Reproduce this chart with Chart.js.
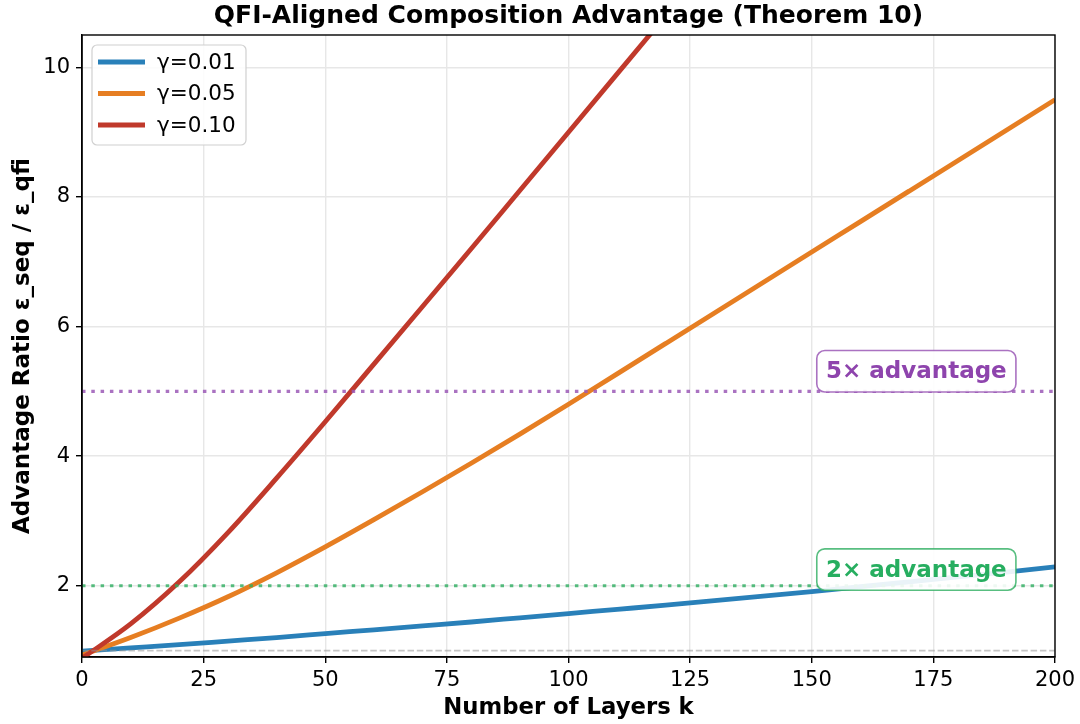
<!DOCTYPE html>
<html>
<head>
<meta charset="utf-8">
<title>QFI-Aligned Composition Advantage</title>
<script src="https://cdn.jsdelivr.net/npm/chart.js@4.4.1/dist/chart.umd.min.js"></script>
<style>
    html, body { margin: 0; padding: 0; background: #ffffff; }
    #chart-box { width: 1080px; height: 724px; }
</style>
</head>
<body>
<div id="chart-box"><canvas id="main-chart" width="1080" height="724"></canvas></div>
<script>
// ==================== DATOS ====================

const layers = [0, 10, 20, 30, 40, 50, 60, 70, 80, 90, 100, 110, 120, 130, 140, 150, 160, 170, 180, 190, 200];

// Ratio ε_seq / ε_qfi
const ratioGamma001 = [0.99, 1.04, 1.09, 1.145, 1.20, 1.26, 1.32, 1.38, 1.44, 1.505, 1.57, 1.635, 1.70, 1.77, 1.84, 1.91, 1.985, 2.06, 2.135, 2.21, 2.29];
const ratioGamma005 = [0.93, 1.20, 1.50, 1.83, 2.20, 2.60, 3.02, 3.45, 3.89, 4.34, 4.80, 5.27, 5.74, 6.21, 6.68, 7.15, 7.62, 8.09, 8.56, 9.03, 9.50];
const ratioGamma010 = [0.88, 1.41, 2.06, 2.82, 3.66, 4.53, 5.42, 6.31, 7.20, 8.10, 9.00, 9.90, 10.80];

const seriesLabels = ['γ=0.01', 'γ=0.05', 'γ=0.10'];
const seriesColors = ['#2980b9', '#e67e22', '#c0392b'];

const xTicks = [0, 25, 50, 75, 100, 125, 150, 175, 200];
const yTicks = [2, 4, 6, 8, 10];

const baselineRatio = 1;
const advantageLevels = [5, 2];
const advantageLabels = ['5× advantage', '2× advantage'];
const advantageColors = ['#8e44ad', '#27ae60'];
const advantageLineColors = ['rgba(155, 89, 182, 0.85)', 'rgba(46, 174, 96, 0.8)'];

const chartTitle = 'QFI-Aligned Composition Advantage (Theorem 10)';

const FONT = "'DejaVu Sans', Verdana, sans-serif";

function toPoints(values) {
    return values.map((v, i) => ({ x: layers[i], y: v }));
}

function flatLine(level) {
    return [{ x: xTicks[0], y: level }, { x: xTicks[xTicks.length - 1], y: level }];
}

// ==================== PLUGINS ====================

// Titulo centrado sobre el area del grafico (como matplotlib)
const axesTitlePlugin = {
    id: 'axesTitle',
    afterDraw(chart) {
        const { ctx, chartArea: a } = chart;
        ctx.save();
        ctx.font = 'bold 25px ' + FONT;
        ctx.fillStyle = '#000';
        ctx.textAlign = 'center';
        ctx.textBaseline = 'middle';
        ctx.fillText(chartTitle, (a.left + a.right) / 2, 16);
        ctx.restore();
    }
};

// Marco completo del area del grafico (arriba y derecha)
const framePlugin = {
    id: 'frame',
    afterDatasetsDraw(chart) {
        const { ctx, chartArea: a } = chart;
        ctx.save();
        ctx.strokeStyle = '#000';
        ctx.lineWidth = 1.4;
        ctx.strokeRect(a.left, a.top, a.right - a.left, a.bottom - a.top);
        ctx.restore();
    }
};

// Cajas de texto "N× advantage"
const advantageBoxPlugin = {
    id: 'advantageBoxes',
    afterDatasetsDraw(chart) {
        const { ctx, scales } = chart;
        const fs = 23;
        const pad = 0.4 * fs;
        const anchorX = 171.5;
        const offsets = [0.31, 0.25];
        ctx.save();
        ctx.font = 'bold ' + fs + 'px ' + FONT;
        ctx.textAlign = 'center';
        ctx.textBaseline = 'middle';
        advantageLabels.forEach((label, i) => {
            const cx = scales.x.getPixelForValue(anchorX);
            const cy = scales.y.getPixelForValue(advantageLevels[i] + offsets[i]);
            const w = ctx.measureText(label).width + 2 * pad;
            const h = fs + 2 * pad;
            ctx.beginPath();
            ctx.roundRect(cx - w / 2, cy - h / 2, w, h, 8);
            ctx.fillStyle = 'rgba(255, 255, 255, 0.9)';
            ctx.fill();
            ctx.lineWidth = 1.6;
            ctx.strokeStyle = advantageLineColors[i];
            ctx.stroke();
            ctx.fillStyle = advantageColors[i];
            ctx.fillText(label, cx, cy + 1);
        });
        ctx.restore();
    }
};

// Leyenda dentro del area del grafico, arriba a la izquierda
const innerLegendPlugin = {
    id: 'innerLegend',
    afterDraw(chart) {
        const { ctx, chartArea: a } = chart;
        const x0 = a.left + 10, y0 = a.top + 10;
        const w = 154, h = 100;
        ctx.save();
        ctx.beginPath();
        ctx.roundRect(x0, y0, w, h, 5);
        ctx.fillStyle = 'rgba(255, 255, 255, 0.85)';
        ctx.fill();
        ctx.lineWidth = 1.2;
        ctx.strokeStyle = '#d0d0d0';
        ctx.stroke();
        ctx.font = '21.5px ' + FONT;
        ctx.textBaseline = 'middle';
        ctx.fillStyle = '#000';
        seriesLabels.forEach((label, i) => {
            const y = y0 + 17 + i * 31.5;
            ctx.beginPath();
            ctx.moveTo(x0 + 6, y);
            ctx.lineTo(x0 + 53, y);
            ctx.lineWidth = 4.8;
            ctx.strokeStyle = seriesColors[i];
            ctx.stroke();
            ctx.fillText(label, x0 + 65, y + 1);
        });
        ctx.restore();
    }
};

// ==================== GRAFICO ====================

const seriesValues = [ratioGamma001, ratioGamma005, ratioGamma010];

const datasets = seriesValues.map((vals, i) => ({
    label: seriesLabels[i],
    data: toPoints(vals),
    borderColor: seriesColors[i],
    borderWidth: 4.8,
    pointRadius: 0,
    cubicInterpolationMode: 'monotone',
    clip: 0,
    order: 3 - i
}));

advantageLevels.forEach((level, i) => {
    datasets.push({
        label: advantageLabels[i],
        data: flatLine(level),
        borderColor: advantageLineColors[i],
        borderWidth: 3.2,
        borderDash: [3.5, 5.8],
        pointRadius: 0,
        clip: 0,
        order: 0
    });
});

datasets.push({
    label: 'baseline',
    data: flatLine(baselineRatio),
    borderColor: 'rgba(150, 150, 150, 0.55)',
    borderWidth: 1.75,
    borderDash: [6.5, 2.8],
    pointRadius: 0,
    clip: 0,
    order: 0
});

const gridStyle = {
    color: '#e7e7e7',
    lineWidth: 1.4,
    tickColor: '#000',
    tickLength: 6,
    tickWidth: 1.4
};

new Chart(document.getElementById('main-chart'), {
    type: 'line',
    data: { datasets: datasets },
    options: {
        responsive: false,
        animation: false,
        devicePixelRatio: 1,
        layout: { padding: { top: 35, right: 25, bottom: 0, left: 0 } },
        plugins: {
            legend: { display: false },
            tooltip: { enabled: false },
            title: { display: false }
        },
        scales: {
            x: {
                type: 'linear',
                min: xTicks[0],
                max: xTicks[xTicks.length - 1],
                grid: gridStyle,
                border: { display: true, color: '#000', width: 1.4 },
                ticks: {
                    color: '#000',
                    padding: 5,
                    maxRotation: 0,
                    font: { family: FONT, size: 21 }
                },
                afterBuildTicks: (scale) => { scale.ticks = xTicks.map(v => ({ value: v })); },
                afterFit: (scale) => {
                    scale.height = 67;
                    scale.paddingLeft = 0;
                    scale.paddingRight = 0;
                },
                title: {
                    display: true,
                    text: 'Number of Layers k',
                    color: '#000',
                    font: { family: FONT, size: 22.75, weight: 'bold', lineHeight: 1.2 },
                    padding: { top: 0, bottom: 2 }
                }
            },
            y: {
                type: 'linear',
                min: 0.9,
                max: 10.5,
                grid: gridStyle,
                border: { display: true, color: '#000', width: 1.4 },
                ticks: {
                    color: '#000',
                    padding: 6,
                    font: { family: FONT, size: 21 }
                },
                afterBuildTicks: (scale) => { scale.ticks = yTicks.map(v => ({ value: v })); },
                afterFit: (scale) => {
                    scale.width = 82;
                    scale.paddingTop = 0;
                    scale.paddingBottom = 0;
                },
                title: {
                    display: true,
                    text: 'Advantage Ratio ε_seq / ε_qfi',
                    color: '#000',
                    font: { family: FONT, size: 23, weight: 'bold', lineHeight: 1.2 },
                    padding: { top: 9, bottom: 0 }
                }
            }
        }
    },
    plugins: [framePlugin, advantageBoxPlugin, innerLegendPlugin, axesTitlePlugin]
});
</script>
</body>
</html>
